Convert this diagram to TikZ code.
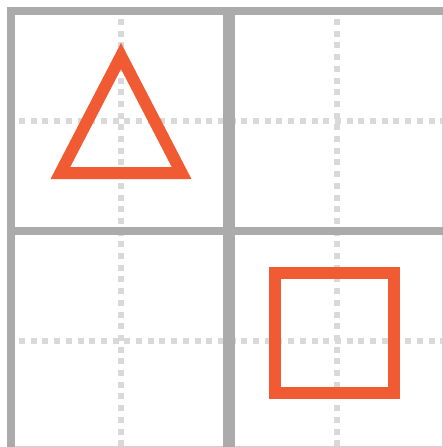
\documentclass[tikz,border=0pt]{standalone}
\definecolor{framegray}{RGB}{171,171,171}
\definecolor{dotgray}{RGB}{217,217,217}
\definecolor{edgegray}{RGB}{210,210,210}
\definecolor{shapeorange}{RGB}{240,91,51}
\tikzset{
  thickbar/.style={fill=framegray, draw=none},
  dotline/.style={draw=dotgray, line width=6pt, dash pattern=on 6pt off 5.7pt},
  edgeline/.style={draw=edgegray, line width=1.2pt},
  shapeline/.style={draw=shapeorange, line width=12pt, miter limit=10, line join=miter}
}
\begin{document}
\begin{tikzpicture}[x=1pt, y=-1pt]
\useasboundingbox (0,0) rectangle (443,447);
% dotted guide lines
\draw[dotline] (121,19) -- (121,447);
\draw[dotline] (337.3,19) -- (337.3,447);
\draw[dotline] (19,120.7) -- (443,120.7);
\draw[dotline] (19,340.7) -- (443,340.7);
% thin right and bottom edges
\draw[edgeline] (442.4,7) -- (442.4,447);
\draw[edgeline] (7,446.4) -- (443,446.4);
% thick grid bars
\fill[thickbar] (7,7) rectangle (443,15);
\fill[thickbar] (7,7) rectangle (15,447);
\fill[thickbar] (222.7,7) rectangle (235,447);
\fill[thickbar] (7,226.5) rectangle (443,235);
% shapes
\draw[shapeline] (60.4,173) -- (181.6,173) -- (121,56) -- cycle;
\draw[shapeline] (274.5,273) rectangle (393.5,392.5);
\end{tikzpicture}
\end{document}
